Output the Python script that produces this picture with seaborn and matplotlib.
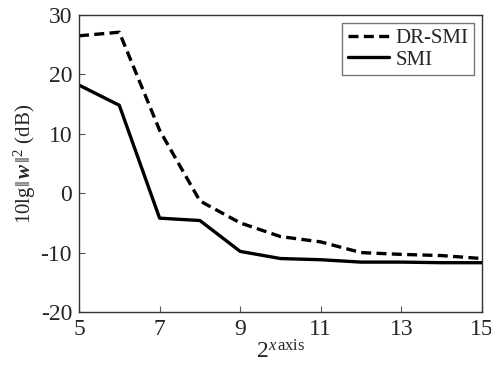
import matplotlib
matplotlib.use("Agg")
import matplotlib.pyplot as plt
import seaborn as sns
import pandas as pd

x_vals = [5, 6, 7, 8, 9, 10, 11, 12, 13, 14, 15]
dr_smi = [26.5, 27.1, 10.6, -1.3, -5.0, -7.3, -8.2, -10.0, -10.3, -10.5, -11.0]
smi = [18.2, 14.8, -4.2, -4.6, -9.8, -11.0, -11.2, -11.6, -11.6, -11.7, -11.7]
series_names = ["DR-SMI", "SMI"]
x_ticks = [5, 7, 9, 11, 13, 15]
y_ticks = [-20, -10, 0, 10, 20, 30]

sns.set_theme(style="white")
plt.rcParams["font.family"] = ["Liberation Serif", "DejaVu Serif"]
plt.rcParams["axes.unicode_minus"] = False
plt.rcParams["mathtext.fontset"] = "custom"
plt.rcParams["mathtext.rm"] = "Liberation Serif"
plt.rcParams["mathtext.it"] = "Liberation Serif:italic"
plt.rcParams["mathtext.bf"] = "Liberation Serif:bold"
plt.rcParams["mathtext.bfit"] = "Liberation Serif:bold:italic"

df = pd.DataFrame({
    "x": x_vals * 2,
    "y": dr_smi + smi,
    "series": [series_names[0]] * len(x_vals) + [series_names[1]] * len(x_vals),
})

fig = plt.figure(figsize=(4.91, 3.65), dpi=100)
ax = fig.add_axes([79 / 491, 1 - 312 / 365, (482 - 79) / 491, (312 - 15) / 365])
sns.lineplot(data=df, x="x", y="y", hue="series", style="series",
             palette={"DR-SMI": "black", "SMI": "black"},
             dashes={"DR-SMI": (3, 1.6), "SMI": ""}, linewidth=2.4, ax=ax)

ax.set_xlim(5, 15)
ax.set_ylim(-20, 30)
ax.set_xticks(x_ticks)
ax.set_yticks(y_ticks)
ax.tick_params(direction="in", length=4, width=0.8, labelsize=17, color="#555555",
               top=False, right=False, bottom=True, left=True, pad=5)
for s in ax.spines.values():
    s.set_color("#333333")
    s.set_linewidth(1.0)
ax.set_xlabel(r"$2^{x\,\mathrm{axis}}$", fontsize=17, labelpad=0)
ax.set_ylabel(r"10lg$\|\,\boldsymbol{w}\,\|^2$ (dB)", fontsize=15, labelpad=2)

leg = ax.legend(loc="upper right", fontsize=15, frameon=True, fancybox=False,
                edgecolor="#555555", handlelength=2.0, handletextpad=0.3,
                borderpad=0.25, labelspacing=0.1, borderaxespad=0.4)
leg.get_frame().set_linewidth(1.0)

fig.savefig("out.png", dpi=100)
